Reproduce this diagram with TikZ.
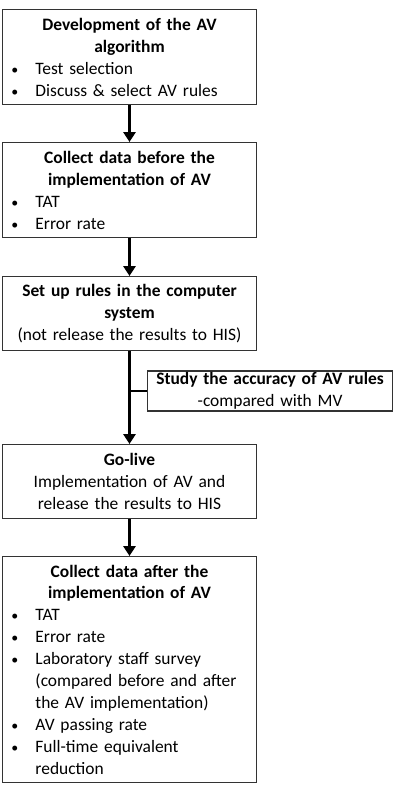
\documentclass[tikz,border=0pt]{standalone}
\usepackage{fontspec}
\setmainfont{Carlito}
\usetikzlibrary{arrows.meta}

\newcommand{\bitem}[1]{\par\noindent\hangindent=0.65cm\hangafter=1\makebox[0.65cm][l]{\hspace{0.05cm}\scalebox{0.8}{\textbullet}}#1\par}
\newcommand{\bhead}[1]{{\centering\bfseries #1\par}}
\newcommand{\brk}{\hfil\break}

\begin{document}
\begin{tikzpicture}[x=0.025cm,y=-0.025cm,
  font=\fontsize{12.4}{15.6}\selectfont,
  stepbox/.style={draw=black!80,line width=0.9pt,anchor=north,text width=6.0cm,
    inner xsep=0.18cm,inner ysep=2pt},
  listbox/.style={stepbox,execute at begin node={\raggedright\hyphenpenalty=10000}},
  flow/.style={line width=2pt,-{Triangle[length=7pt,width=8.5pt]}}]
\useasboundingbox (0,0) rectangle (400,792);
\node[listbox,minimum height=2.375cm] (dev) at (129.5,9)
  {\bhead{Development of the AV\\ algorithm}\bitem{Test selection}\bitem{Discuss \& select AV rules}};
\node[listbox,minimum height=2.375cm] (before) at (129.5,142)
  {\bhead{Collect data before the\\ implementation of AV}\bitem{TAT}\bitem{Error rate}};
\node[stepbox,align=center,minimum height=1.85cm] (setup) at (129.5,276)
  {\textbf{Set up rules in the computer}\\ \textbf{system}\\ (not release the results to HIS)};
\node[stepbox,align=center,minimum height=1.85cm] (golive) at (129.5,444)
  {\textbf{Go-live}\\ Implementation of AV and\\ release the results to HIS};
\node[listbox,minimum height=5.65cm] (after) at (129.5,556)
  {\bhead{Collect data after the\\ implementation of AV}\bitem{TAT}\bitem{Error rate}%
   \bitem{Laboratory staff survey\brk (compared before and after\brk the AV implementation)}%
   \bitem{AV passing rate}\bitem{Full-time equivalent\brk reduction}};
\node[draw=black!80,line width=0.9pt,align=center,text width=6.0cm,inner xsep=0.06cm,
  inner ysep=1pt,minimum height=0.95cm,anchor=west] (study) at (147,391)
  {\textbf{Study the accuracy of AV rules}\\ -compared with MV};
\draw[flow] (dev) -- (before);
\draw[flow] (before) -- (setup);
\draw[flow] (setup) -- (golive);
\draw[flow] (golive) -- (after);
\draw[line width=2pt] (study.west) -- (study.west -| setup.south);
\end{tikzpicture}
\end{document}
